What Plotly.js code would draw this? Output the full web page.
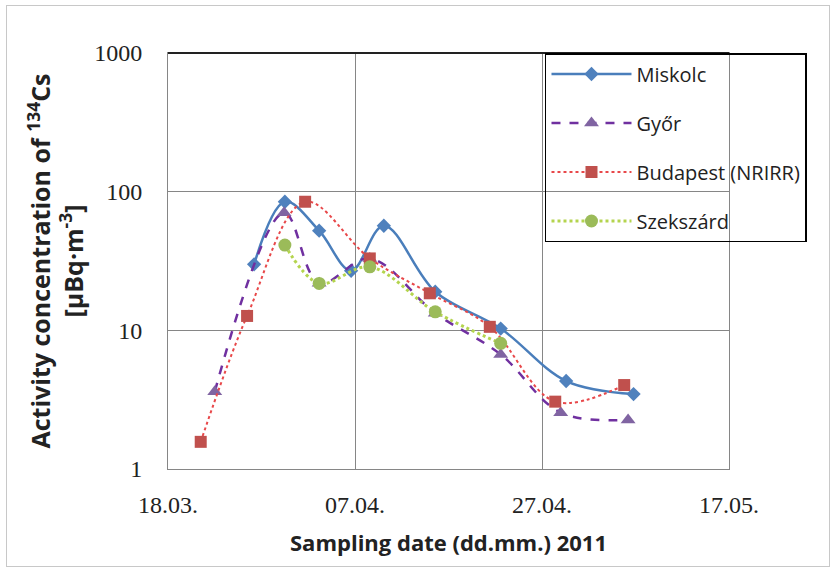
<!DOCTYPE html>
<html>
<head>
<meta charset="utf-8">
<script src="https://cdn.plot.ly/plotly-3.0.1.min.js"></script>
<style>
html,body{margin:0;padding:0;background:#fff;}
#wrap{position:relative;width:834px;height:571px;}
#chart{width:834px;height:571px;}
#frame{position:absolute;left:6px;top:5px;width:822px;height:560px;border:1px solid #c8c8c8;pointer-events:none;}
</style>
</head>
<body>
<div id="wrap"><div id="chart"></div><div id="frame"></div></div>
<script>
// Data
const miskolcDates = ['2011-03-27 05:00','2011-03-30 12:00','2011-04-03 04:00','2011-04-06 14:00','2011-04-10 02:00','2011-04-15 14:00','2011-04-22 14:00','2011-04-29 14:00','2011-05-06 19:00'];
const miskolcVals  = [29.9, 84.6, 52.3, 26.9, 56.8, 19.0, 10.3, 4.31, 3.47];

const gyorDates = ['2011-03-23 00:00','2011-03-30 10:00','2011-04-03 04:00','2011-04-08 14:00','2011-04-15 14:00','2011-04-22 14:00','2011-04-29 00:00','2011-05-06 05:00'];
const gyorVals  = [3.61, 70.5, 21.9, 33.0, 13.3, 6.7, 2.55, 2.26];

const budapestDates = ['2011-03-21 12:00','2011-03-26 11:00','2011-04-01 16:00','2011-04-08 14:00','2011-04-15 00:00','2011-04-21 10:00','2011-04-28 10:00','2011-05-05 19:00'];
const budapestVals  = [1.57, 12.7, 84.6, 33.0, 18.5, 10.6, 3.06, 4.03];

const szekszardDates = ['2011-03-30 12:00','2011-04-03 04:00','2011-04-08 14:00','2011-04-15 14:00','2011-04-22 14:00'];
const szekszardVals  = [41.2, 21.8, 28.7, 13.6, 8.06];

const xTickVals = ['2011-03-18','2011-04-07','2011-04-27','2011-05-17'];
const xTickText = ['18.03.','07.04.','27.04.','17.05.'];
const yTickVals = [1, 10, 100, 1000];
const yTickText = ['1','10','100','1000'];

const seriesNames = ['Miskolc','Győr','Budapest (NRIRR)','Szekszárd'];

const traces = [
  {x: miskolcDates, y: miskolcVals, name: seriesNames[0], legendgroup:'a',
   mode:'lines+markers', line:{color:'#4a7ebb', width:2.5, shape:'spline', smoothing:1, dash:'solid'},
   marker:{symbol:'diamond', size:11, color:'#4f81bd'}},
  {x: gyorDates, y: gyorVals, name: seriesNames[1], legendgroup:'b',
   mode:'lines+markers', line:{color:'#7030a0', width:2.5, shape:'spline', smoothing:1, dash:'dash'},
   marker:{symbol:'triangle-up', size:13, color:'#8064a2'}},
  {x: budapestDates, y: budapestVals, name: seriesNames[2], legendgroup:'c',
   mode:'lines+markers', line:{color:'#e8484a', width:2, shape:'spline', smoothing:1, dash:'dot'},
   marker:{symbol:'square', size:12, color:'#c0504d'}},
  {x: szekszardDates, y: szekszardVals, name: seriesNames[3], legendgroup:'d',
   mode:'lines+markers', line:{color:'#b4d44e', width:3, shape:'spline', smoothing:1, dash:'dot'},
   marker:{symbol:'circle', size:13, color:'#9bbb59'}}
];

const layout = {
  width:834, height:571,
  margin:{l:168, r:105, t:53, b:102},
  paper_bgcolor:'rgba(0,0,0,0)', plot_bgcolor:'#fff',
  showlegend:true,
  legend:{x:0.672, y:1.0, xanchor:'left', yanchor:'top', bgcolor:'rgba(0,0,0,0)',
          bordercolor:'#000', borderwidth:1.5, traceorder:'grouped', tracegroupgap:20,
          itemwidth:80, font:{family:'Open Sans, sans-serif', size:20, color:'#222'}},
  xaxis:{type:'date', range:['2011-03-18','2011-05-17'], tickvals:xTickVals, ticktext:xTickText,
         showgrid:true, gridcolor:'#868686', gridwidth:1, zeroline:false,
         showline:true, linecolor:'#868686', linewidth:1, mirror:true, ticks:'', ticklabelstandoff:14,
         tickfont:{family:'Liberation Serif, serif', size:24, color:'#222'},
         title:{text:'<b>Sampling date (dd.mm.) 2011</b>', font:{family:'Open Sans, sans-serif', size:22, color:'#222'}, standoff:18}},
  yaxis:{type:'log', range:[0,3], tickvals:yTickVals, ticktext:yTickText,
         showgrid:true, gridcolor:'#868686', gridwidth:1, zeroline:false,
         showline:true, linecolor:'#868686', linewidth:1, mirror:true, ticks:'', ticklabelstandoff:20,
         tickfont:{family:'Liberation Serif, serif', size:24, color:'#222'},
         title:{text:'<b>Activity concentration of <sup>134</sup>Cs<br>[µBq·m<sup>-3</sup>]</b>', font:{family:'Open Sans, sans-serif', size:25, color:'#222'}, standoff:3}},
  shapes:[{type:'line', xref:'paper', yref:'paper', x0:0, x1:1, y0:1, y1:1, line:{color:'#222', width:2}}]
};

Plotly.newPlot('chart', traces, layout, {displayModeBar:false, staticPlot:true});
</script>
</body>
</html>
